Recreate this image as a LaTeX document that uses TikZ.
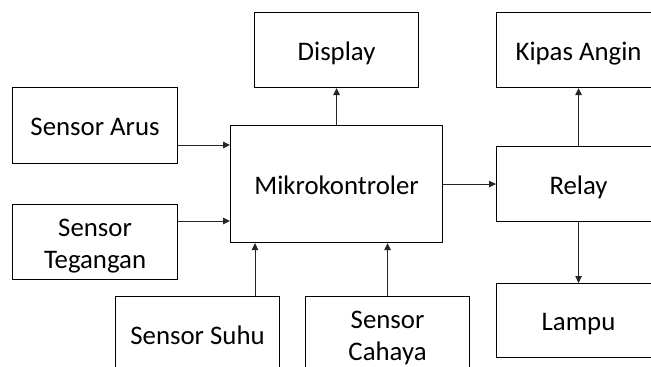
\documentclass[tikz,border=0pt]{standalone}
\usepackage{fontspec}
\setmainfont{Carlito}
\usetikzlibrary{arrows.meta}
\newcommand{\toprl}{\rule{0pt}{27pt}}
\newcommand{\botrl}{\rule[-7pt]{0pt}{7pt}}
\begin{document}
\begin{tikzpicture}[x=1pt,y=-1pt,
  blk/.style={draw=black, line width=1.1pt, anchor=north west, inner sep=0pt,
    align=center, font=\fontsize{26.8}{32}\selectfont, text=black,
    minimum width=164pt, minimum height=75pt},
  one/.style={text height=22pt, text depth=2pt},
  arr/.style={line width=0.9pt, draw=black!85, -{Triangle[length=7pt,width=6.5pt]}}]
\useasboundingbox (0,0) rectangle (651,367);
\clip (0,0) rectangle (651,367);
\node[blk, one] (disp) at (254,12) {Display};
\node[blk, one] (kipas) at (496,12) {Kipas Angin};
\node[blk, one, minimum width=165pt, minimum height=76pt] (arus) at (12,87) {Sensor Arus};
\node[blk, one, minimum width=212pt, minimum height=117pt] (mk) at (230,125) {Mikrokontroler};
\node[blk, one] (relay) at (496,146) {Relay};
\node[blk, minimum width=165pt] (teg) at (12,204) {\toprl Sensor\\Tegangan\botrl};
\node[blk, one] (suhu) at (115,296) {Sensor Suhu};
\node[blk] (cahaya) at (305,296) {\toprl Sensor\\Cahaya\botrl};
\node[blk, one, minimum height=74pt] (lampu) at (496,283) {Lampu};
\draw[arr] (arus.east |- 0,145) -- (mk.west |- 0,145);
\draw[arr] (teg.east |- 0,221) -- (mk.west |- 0,221);
\draw[arr] (mk.north) -- (disp.south);
\draw[arr] (mk.east) -- (relay.west);
\draw[arr] (relay.north) -- (kipas.south);
\draw[arr] (relay.south) -- (lampu.north);
\draw[arr] (suhu.north -| 255,0) -- (mk.south -| 255,0);
\draw[arr] (cahaya.north) -- (mk.south -| cahaya.north);
\end{tikzpicture}
\end{document}
